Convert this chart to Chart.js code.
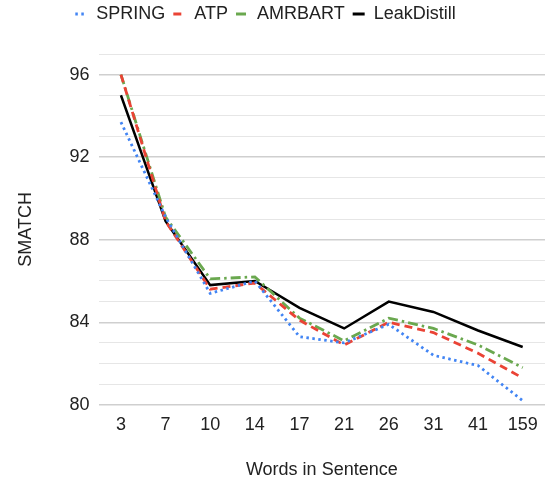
<!DOCTYPE html>
<html>
<head>
<meta charset="utf-8">
<script src="https://cdn.jsdelivr.net/npm/chart.js@4"></script>
<style>
  html, body { margin: 0; padding: 0; background: #fff; }
  #wrap { width: 545px; height: 481px; }
</style>
</head>
<body>
<div id="wrap"><canvas id="smatchChart"></canvas></div>
<script>
// ข้อมูลของกราฟ
const wordBuckets = ['3', '7', '10', '14', '17', '21', '26', '31', '41', '159'];
const springScores = [93.7, 89.1, 85.4, 86.0, 83.3, 83.0, 83.9, 82.4, 81.9, 80.2];
const atpScores = [96.0, 88.9, 85.6, 85.9, 84.1, 82.9, 84.0, 83.5, 82.5, 81.3];
const amrbartScores = [96.0, 89.1, 86.1, 86.2, 84.2, 83.1, 84.2, 83.7, 82.9, 81.8];
const leakDistillScores = [95.0, 88.9, 85.8, 86.0, 84.7, 83.7, 85.0, 84.5, 83.6, 82.8];
const yTickLabels = [80, 84, 88, 92, 96];

const ctx = document.getElementById('smatchChart').getContext('2d');
Chart.defaults.font.family = '"Liberation Sans", Arial, sans-serif';
Chart.defaults.color = '#222';

function lineSet(label, data, color, dash, width) {
    return {
        label: label,
        data: data,
        borderColor: color,
        backgroundColor: color,
        borderWidth: width,
        borderDash: dash,
        pointRadius: 0,
        tension: 0,
        fill: false
    };
}

// ปรับขนาด/ตำแหน่ง legend ให้พื้นที่กราฟเริ่มที่ตำแหน่งเดียวกับต้นฉบับ
const legendSpacer = {
    id: 'legendSpacer',
    beforeInit(chart) {
        const legend = chart.legend;
        const fit = legend.fit;
        legend.fit = function () {
            fit.bind(legend)();
            this.height = 58;
        };
        const draw = legend.draw;
        legend.draw = function () {
            this.ctx.save();
            this.ctx.translate(-13, 1);
            draw.bind(legend)();
            this.ctx.restore();
        };
    }
};

const smatchChart = new Chart(ctx, {
    type: 'line',
    data: {
        labels: wordBuckets,
        datasets: [
            lineSet('SPRING', springScores, '#4285F4', [2.5, 3.5], 2.8),
            lineSet('ATP', atpScores, '#EA4335', [8, 5], 2.8),
            lineSet('AMRBART', amrbartScores, '#6AA84F', [10, 4, 2.5, 4], 2.8),
            lineSet('LeakDistill', leakDistillScores, '#000000', [], 2.5)
        ]
    },
    plugins: [legendSpacer],
    options: {
        responsive: true,
        maintainAspectRatio: false,
        animation: false,
        layout: { padding: { top: -4, left: 12, right: 0, bottom: 0 } },
        plugins: {
            legend: {
                display: true,
                position: 'top',
                labels: {
                    usePointStyle: true,
                    pointStyle: 'line',
                    pointStyleWidth: 12,
                    padding: 8,
                    font: { size: 18 },
                    generateLabels: function (chart) {
                        const items = Chart.defaults.plugins.legend.labels.generateLabels(chart);
                        items.forEach((item, i) => {
                            const ds = chart.data.datasets[i];
                            item.lineDash = ds.borderDash;
                            item.strokeStyle = ds.borderColor;
                            item.lineWidth = 3;
                            item.pointStyle = 'line';
                        });
                        return items;
                    }
                }
            },
            tooltip: { enabled: false }
        },
        scales: {
            x: {
                offset: true,
                grid: { display: false },
                border: { display: false },
                ticks: { font: { size: 18 }, padding: 1, maxRotation: 0, autoSkip: false },
                title: {
                    display: true,
                    text: 'Words in Sentence',
                    font: { size: 18 },
                    padding: { top: 23, bottom: 0 }
                }
            },
            y: {
                min: 80,
                max: 97,
                border: { display: false },
                grid: {
                    drawTicks: false,
                    color: (c) => (c.tick && yTickLabels.includes(c.tick.value)) ? '#cfcfcf' : '#e6e6e6',
                    lineWidth: (c) => (c.tick && yTickLabels.includes(c.tick.value)) ? 1.5 : 1
                },
                ticks: {
                    stepSize: 1,
                    autoSkip: false,
                    padding: 9,
                    font: { size: 18 },
                    callback: function (value) {
                        return yTickLabels.includes(value) ? value : '';
                    }
                },
                title: {
                    display: true,
                    text: 'SMATCH',
                    font: { size: 18 },
                    padding: { top: 3, bottom: 24 }
                }
            }
        }
    }
});
</script>
</body>
</html>
